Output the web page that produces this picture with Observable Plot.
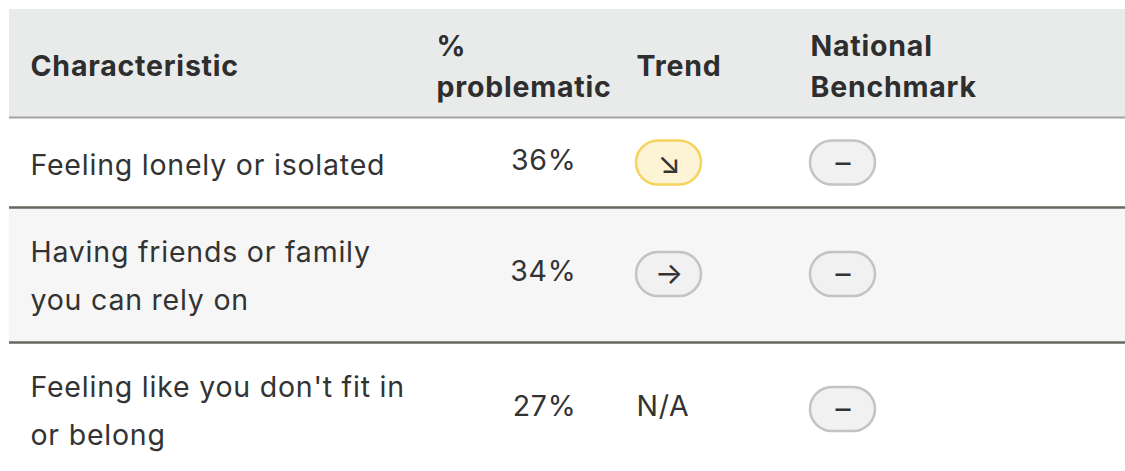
<!DOCTYPE html>
<html><head><meta charset="utf-8">
<script src="https://cdn.jsdelivr.net/npm/d3@7"></script>
<script src="https://cdn.jsdelivr.net/npm/@observablehq/plot@0.6"></script>
<style>html,body{margin:0;padding:0;background:#fff;overflow:hidden}
svg .txt, svg .txt text{letter-spacing:0.78px}</style>
</head><body><div id="chart"></div>
<script>
// ---- data ----
const headers = ["Characteristic", "%\nproblematic", "Trend", "National\nBenchmark"];
const characteristics = [
  "Feeling lonely or isolated",
  "Having friends or family\nyou can rely on",
  "Feeling like you don't fit in\nor belong"
];
const percentProblematic = [36, 34, 27];
const trend = ["down", "flat", "N/A"];
const benchmark = ["none", "none", "none"];

// ---- layout (pixels) ----
const W = 1125, H = 471;
const left = 9, headTop = 9, headBottom = 117;
const rowTop = [118, 208, 343];
const rowBottom = [207, 342, 490];
const colX = [30, 436, 636, 810];
const pctRight = 576;
const pillW = 65, pillH = 44;
const symbols = {down: "\u2198", flat: "\u2192", up: "\u2197", none: "\u2013"};

const rows = characteristics.map((c, i) => ({
  label: c, pct: percentProblematic[i] + "%", trend: trend[i], bench: benchmark[i],
  y1: rowTop[i], y2: rowBottom[i], yc: [162.5, 274, 409][i], i
}));
const head = headers.map((h, j) => ({h, x: colX[j]}));
const pills = [];
rows.forEach(r => {
  if (r.trend !== "N/A") pills.push({x: colX[2], yc: r.yc, sym: symbols[r.trend], kind: r.trend});
  pills.push({x: colX[3], yc: r.yc, sym: symbols[r.bench], kind: "bench"});
});
const fillFor = k => k === "down" ? "#fdf4d5" : "#f1f1f1";
const strokeFor = k => k === "down" ? "#f6d35c" : "#c3c3c3";
const font = "Inter, Roboto, sans-serif";
const fs = 28.5;
const tShift = -3.5;

const chart = Plot.plot({
  width: W, height: H, margin: 0,
  x: {domain: [0, W], range: [0, W], axis: null},
  y: {domain: [0, H], range: [0, H], axis: null},
  style: {fontFamily: font, background: "#fff"},
  marks: [
    Plot.rect([0], {x1: left, x2: W, y1: headTop, y2: headBottom, fill: "#e9eaea"}),
    Plot.rect(rows, {x1: left, x2: W, y1: "y1", y2: "y2", fill: d => d.i % 2 ? "#f6f6f6" : "#ffffff"}),
    Plot.ruleY([headBottom], {x1: left, x2: W, stroke: "#a3a3a3", strokeWidth: 2}),
    Plot.ruleY(rows.slice(0, -1), {y: "y2", x1: left, x2: W, stroke: "#646a60", strokeWidth: 2.5}),
    Plot.text(head, {x: "x", y: (headTop + headBottom) / 2, text: "h", textAnchor: "start", lineAnchor: "middle",
      fontSize: fs, fontWeight: "bold", fill: "#2e2e2e", lineHeight: 1.42, className: "txt"}),
    Plot.text(rows, {x: colX[0], y: d => d.yc + tShift, text: "label", textAnchor: "start", lineAnchor: "middle",
      fontSize: fs, fill: "#333", lineHeight: 1.66, className: "txt"}),
    Plot.text(rows, {x: pctRight, y: d => d.yc + tShift + 1, text: "pct", textAnchor: "end", lineAnchor: "middle",
      fontSize: fs, fill: "#333", className: "txt"}),
    Plot.text(rows.filter(r => r.trend === "N/A"), {x: colX[2], y: d => d.yc + tShift + 1, text: "trend", textAnchor: "start",
      lineAnchor: "middle", fontSize: fs, fill: "#333", className: "txt"}),
    Plot.rect(pills, {x1: d => d.x, x2: d => d.x + pillW, y1: d => d.yc - pillH / 2, y2: d => d.yc + pillH / 2,
      rx: pillH / 2, ry: pillH / 2, fill: d => fillFor(d.kind), stroke: d => strokeFor(d.kind), strokeWidth: 2.5}),
    Plot.text(pills, {x: d => d.x + pillW / 2, y: "yc", text: "sym", lineAnchor: "middle",
      fontSize: 30, fill: "#333", fontFamily: "Inter"})
  ]
});
document.getElementById("chart").append(chart);
</script></body></html>
